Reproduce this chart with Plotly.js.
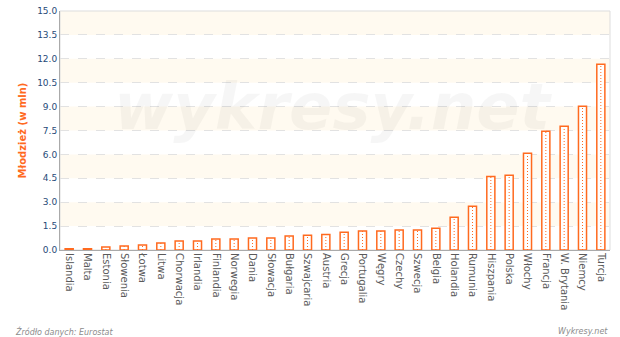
<!DOCTYPE html>
<html>
<head>
<meta charset="utf-8">
<script src="https://cdn.plot.ly/plotly-3.0.1.min.js"></script>
<style>html,body{margin:0;padding:0;background:#fff;}#chart{width:620px;height:337px;}</style>
</head>
<body>
<div id="chart"></div>
<script>
const countries = ["Islandia","Malta","Estonia","Słowenia","Łotwa","Litwa","Chorwacja","Irlandia","Finlandia","Norwegia","Dania","Słowacja","Bułgaria","Szwajcaria","Austria","Grecja","Portugalia","Węgry","Czechy","Szwecja","Belgia","Holandia","Rumunia","Hiszpania","Polska","Włochy","Francja","W. Brytania","Niemcy","Turcja"];
const youthMln = [0.08,0.08,0.19,0.25,0.31,0.44,0.56,0.56,0.69,0.69,0.75,0.75,0.88,0.92,0.98,1.11,1.19,1.19,1.26,1.26,1.36,2.05,2.74,4.62,4.69,6.07,7.45,7.76,9.02,11.66];
const yTicks = [0,1.5,3,4.5,6,7.5,9,10.5,12,13.5,15];
const yTickText = yTicks.map(v => v.toFixed(1));

const orange = '#ff6a1f';

// dotted centre lines inside bars
const dx = [], dy = [];
countries.forEach((c, i) => { dx.push(c, c, null); dy.push(0, youthMln[i], null); });

const traces = [
  {type:'bar', x:countries, y:youthMln, width:0.44,
   marker:{color:'#ffffff', line:{color:orange, width:1.5}}, hoverinfo:'x+y'},
  {type:'scatter', mode:'lines', x:dx, y:dy, connectgaps:false,
   line:{color:orange, width:1, dash:'1px,2px'}, hoverinfo:'skip'}
];

// alternating background bands
const shapes = [];
for (let i = 1; i < yTicks.length - 1; i += 2) {
  shapes.push({type:'rect', layer:'below', xref:'paper', yref:'y', x0:0, x1:1,
    y0:yTicks[i], y1:yTicks[i+1], fillcolor:'#fffaf0', line:{width:0}});
}
shapes.push({type:'rect', layer:'below', xref:'paper', yref:'paper', x0:0, x1:1, y0:0, y1:1,
  line:{color:'#dddddd', width:1}, fillcolor:'rgba(0,0,0,0)'});

const layout = {
  width:620, height:337,
  margin:{l:60, r:10, t:11, b:87},
  paper_bgcolor:'#ffffff', plot_bgcolor:'#ffffff',
  showlegend:false,
  font:{family:'DejaVu Sans', size:10, color:'#555'},
  xaxis:{type:'category', tickangle:90, tickfont:{family:'DejaVu Sans', size:10, color:'#5a5a5a'},
    showline:true, linecolor:'#aaaaaa', linewidth:1, showgrid:false, ticks:'', fixedrange:true},
  yaxis:{range:[0,15], tickvals:yTicks, ticktext:yTickText,
    tickfont:{family:'DejaVu Sans', size:9, color:'#274a78'},
    showline:true, linecolor:'#aaaaaa', linewidth:1,
    showgrid:true, gridcolor:'#e2e2e2', griddash:'dash', gridwidth:1, zeroline:false,
    ticks:'', ticklen:3,
    title:{text:'Młodzież (w mln)', font:{family:'DejaVu Sans', size:10, color:orange, weight:'bold'}, standoff:8}},
  shapes:shapes,
  annotations:[
    {text:'wykresy.net', xref:'paper', yref:'paper', x:0.497, y:0.6, xanchor:'center', yanchor:'middle',
     showarrow:false, font:{family:'DejaVu Sans', size:64, color:'rgba(0,0,0,0.035)', weight:'bold', style:'italic'}},
    {text:'Źródło danych: Eurostat', xref:'paper', yref:'paper', x:-0.085, y:-0.34, xanchor:'left', yanchor:'middle',
     showarrow:false, font:{family:'DejaVu Sans', size:8, color:'#8c8c8c', style:'italic'}},
    {text:'Wykresy.net', xref:'paper', yref:'paper', x:1.0, y:-0.34, xanchor:'right', yanchor:'middle',
     showarrow:false, font:{family:'DejaVu Sans', size:8, color:'#8c8c8c', style:'italic'}}
  ]
};
Plotly.newPlot('chart', traces, layout, {displayModeBar:false, staticPlot:true});
</script>
</body>
</html>
